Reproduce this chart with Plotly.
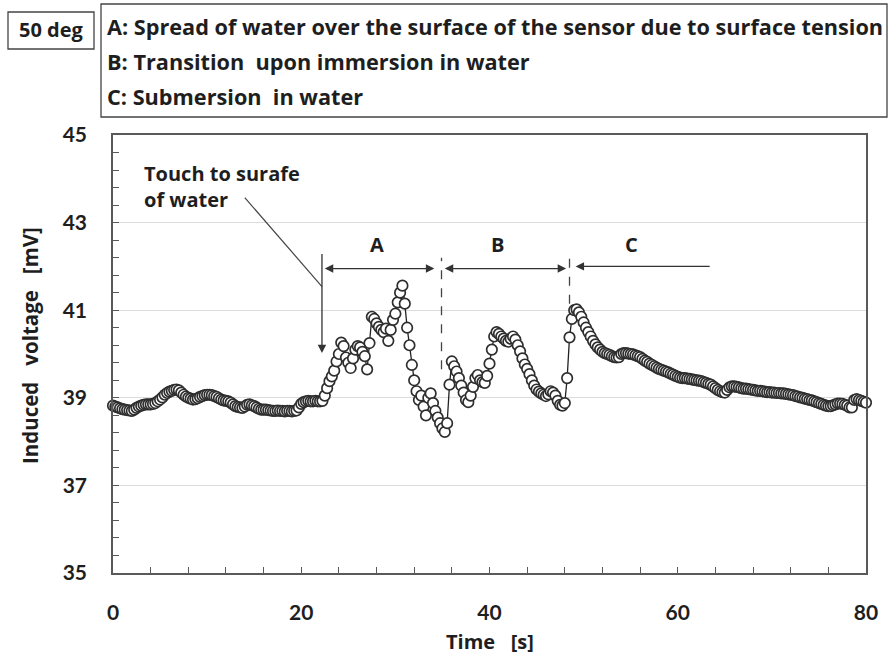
import numpy as np
import plotly.graph_objects as go

# Sampling interval of the recorder [s]
dt = 0.25

# Induced voltage [mV], one row per 2 s (8 samples at 0.25 s)
voltage = [
    38.82, 38.80, 38.78, 38.76, 38.74, 38.73, 38.72, 38.71,
    38.70, 38.73, 38.77, 38.80, 38.82, 38.84, 38.85, 38.85,
    38.85, 38.86, 38.88, 38.92, 38.96, 39.01, 39.07, 39.11,
    39.14, 39.16, 39.18, 39.19, 39.17, 39.12, 39.07, 39.03,
    39.00, 38.98, 38.96, 38.97, 38.99, 39.02, 39.04, 39.06,
    39.07, 39.07, 39.06, 39.04, 39.02, 38.99, 38.96, 38.94,
    38.93, 38.92, 38.89, 38.85, 38.81, 38.79, 38.78, 38.77,
    38.80, 38.84, 38.85, 38.83, 38.81, 38.78, 38.75, 38.73,
    38.73, 38.73, 38.72, 38.71, 38.70, 38.70, 38.71, 38.70,
    38.70, 38.69, 38.70, 38.70, 38.69, 38.70, 38.71, 38.78,
    38.86, 38.90, 38.92, 38.93, 38.92, 38.92, 38.93, 38.92,
    38.92, 38.93, 39.05, 39.22, 39.38, 39.49, 39.62, 39.83,
    40.00, 40.26, 40.18, 39.92, 39.80, 39.68, 39.90, 40.10,
    40.18, 40.15, 40.05, 39.95, 39.65, 40.25, 40.85, 40.80,
    40.70, 40.62, 40.55, 40.50, 40.58, 40.30, 40.55, 40.78,
    40.92, 41.18, 41.40, 41.56, 41.15, 40.60, 40.20, 39.75,
    39.40, 39.15, 38.95, 39.05, 38.80, 38.60, 39.00, 39.10,
    38.88, 38.70, 38.55, 38.42, 38.30, 38.22, 38.42, 39.30,
    39.83, 39.72, 39.60, 39.45, 39.28, 39.12, 38.95, 38.90,
    39.05, 39.25, 39.45, 39.52, 39.40, 39.36, 39.34, 39.50,
    39.78, 40.10, 40.40, 40.50, 40.46, 40.40, 40.35, 40.30,
    40.28, 40.35, 40.40, 40.33, 40.20, 40.06, 39.90, 39.76,
    39.66, 39.54, 39.40, 39.28, 39.19, 39.14, 39.10, 39.07,
    39.04, 39.08, 39.15, 39.12, 39.05, 38.93, 38.84, 38.82,
    38.88, 39.45, 40.38, 40.80, 41.00, 41.02, 40.95, 40.85,
    40.72, 40.60, 40.50, 40.40, 40.30, 40.22, 40.15, 40.10,
    40.05, 40.02, 40.00, 39.98, 39.95, 39.93, 39.92, 39.93,
    40.00, 40.02, 40.02, 40.01, 40.00, 39.99, 39.97, 39.95,
    39.93, 39.89, 39.85, 39.82, 39.78, 39.75, 39.72, 39.69,
    39.66, 39.64, 39.62, 39.60, 39.58, 39.55, 39.53, 39.50,
    39.48, 39.46, 39.45, 39.45, 39.44, 39.43, 39.42, 39.41,
    39.40, 39.39, 39.38, 39.36, 39.34, 39.32, 39.30, 39.26,
    39.22, 39.18, 39.15, 39.13, 39.12, 39.18, 39.24, 39.26,
    39.26, 39.25, 39.24, 39.22, 39.21, 39.21, 39.20, 39.19,
    39.18, 39.17, 39.16, 39.16, 39.15, 39.14, 39.13, 39.13,
    39.12, 39.12, 39.11, 39.11, 39.10, 39.10, 39.09, 39.08,
    39.07, 39.06, 39.04, 39.03, 39.01, 39.00, 38.98, 38.97,
    38.95, 38.94, 38.92, 38.90, 38.88, 38.86, 38.84, 38.82,
    38.81, 38.81, 38.83, 38.85, 38.87, 38.87, 38.86, 38.84,
    38.82, 38.78, 38.78, 38.95, 38.97, 38.95, 38.93, 38.91,
    38.89,
]
time = np.arange(len(voltage)) * dt

# Phase labels and their time spans [s]
phase_names = ["A", "B", "C"]
phase_spans = [(22.5, 34.3), (35.25, 48.3), (49.15, 63.55)]
phase_label_t = [28.0, 40.9, 55.1]
phase_boundaries = [34.9, 48.5]
touch_time = 22.2

legend_lines = [
    "A: Spread of water over the surface of the sensor due to surface tension",
    "B: Transition\u00a0 upon immersion in water",
    "C: Submersion\u00a0 in water",
]

TEXT_FONT = "'Open Sans', Lato, sans-serif"
TICK_FONT = "Lato, 'Open Sans', sans-serif"
INK = "#1e1e1e"
AXIS = "#595959"


def bold(size, family=TEXT_FONT):
    return dict(family=family, size=size, color=INK, weight="bold")


W, H = 889, 657
ML, MR, MT, MB = 113, 23, 135, 84
PW, PH = W - ML - MR, H - MT - MB


def px(x):
    return (x - ML) / PW


def py(y):
    return (H - MB - y) / PH


fig = go.Figure()
fig.add_trace(go.Scatter(
    x=time, y=voltage, mode="lines+markers",
    line=dict(color="#222", width=1.3),
    marker=dict(symbol="circle", size=10.5, color="white",
                line=dict(color="#2e2e2e", width=1.7)),
    cliponaxis=False, showlegend=False,
))

shapes = []
annotations = []

# Touch marker: vertical arrow down to the trace
annotations.append(dict(
    x=touch_time, y=40.02, ax=touch_time, ay=42.32,
    xref="x", yref="y", axref="x", ayref="y",
    text="", showarrow=True, arrowhead=2, arrowsize=1.3,
    arrowwidth=1.3, arrowcolor="#333",
))
# Leader line from the touch label
shapes.append(dict(type="line", xref="x", yref="y",
                   x0=14.0, y0=43.57, x1=touch_time, y1=41.54,
                   line=dict(color="#444", width=1.2)))
annotations.append(dict(
    x=3.1, y=43.82, xref="x", yref="y",
    text="Touch to surafe<br>of water", showarrow=False,
    xanchor="left", yanchor="middle", align="left",
    font=bold(20),
))

# Phase span arrows and labels
for name, (t0, t1), tl in zip(phase_names, phase_spans, phase_label_t):
    yv = 42.0 if name == "C" else 41.95
    annotations.append(dict(
        x=t0, y=yv, ax=t1, ay=yv,
        xref="x", yref="y", axref="x", ayref="y",
        text="", showarrow=True, arrowhead=2, arrowsize=1.3,
        arrowwidth=1.3, arrowcolor="#333",
        arrowside="end" if name == "C" else "end+start",
    ))
    annotations.append(dict(
        x=tl, y=42.5, xref="x", yref="y", text=name, showarrow=False,
        font=bold(20),
    ))

# Dashed phase boundaries
shapes.append(dict(type="line", xref="x", yref="y",
                   x0=phase_boundaries[0], x1=phase_boundaries[0], y0=39.65, y1=42.2,
                   line=dict(color="#444", width=1.3, dash="dash")))
shapes.append(dict(type="line", xref="x", yref="y",
                   x0=phase_boundaries[1], x1=phase_boundaries[1], y0=41.15, y1=42.23,
                   line=dict(color="#444", width=1.3, dash="dash")))

# Header boxes
shapes.append(dict(type="rect", xref="paper", yref="paper",
                   x0=px(8), x1=px(94), y0=py(49), y1=py(12),
                   line=dict(color="#444", width=1.3), fillcolor="white"))
shapes.append(dict(type="rect", xref="paper", yref="paper",
                   x0=px(101), x1=px(887), y0=py(117), y1=py(4),
                   line=dict(color="#444", width=1.3), fillcolor="white"))
annotations.append(dict(
    x=px(51), y=py(30), xref="paper", yref="paper", text="50 deg",
    showarrow=False, xanchor="center", yanchor="middle",
    font=bold(20),
))
for line, yc in zip(legend_lines, [27, 62, 96]):
    annotations.append(dict(
        x=px(105), y=py(yc), xref="paper", yref="paper", text=line,
        showarrow=False, xanchor="left", yanchor="middle",
        font=bold(21.7),
    ))

# Axis titles
annotations.append(dict(
    x=px(490), y=py(641), xref="paper", yref="paper",
    text="Time\u00a0\u00a0 [s]", showarrow=False, xanchor="center", yanchor="middle",
    font=bold(20),
))
annotations.append(dict(
    x=px(30), y=py(346), xref="paper", yref="paper",
    text="Induced\u00a0\u00a0 voltage\u00a0\u00a0 [mV]", showarrow=False, textangle=-90,
    xanchor="center", yanchor="middle",
    font=bold(20.5),
))

fig.update_layout(
    width=W, height=H,
    margin=dict(l=ML, r=MR, t=MT, b=MB, autoexpand=False),
    paper_bgcolor="white", plot_bgcolor="white",
    shapes=shapes, annotations=annotations,
    font=bold(20),
)
fig.update_xaxes(
    range=[0, 80], tickvals=[0, 20, 40, 60, 80],
    ticks="inside", ticklen=6, tickwidth=1.2, tickcolor=AXIS,
    minor=dict(dtick=4, ticks="inside", ticklen=6, tickwidth=1.2, tickcolor=AXIS, showgrid=False),
    showline=True, linecolor=AXIS, linewidth=1.5, mirror=True,
    showgrid=False, zeroline=False, ticklabelstandoff=20,
    tickfont=bold(21, TICK_FONT),
)
fig.update_yaxes(
    range=[35, 45], tickvals=[35, 37, 39, 41, 43, 45],
    ticks="inside", ticklen=6, tickwidth=1.2, tickcolor=AXIS,
    minor=dict(tick0=35, dtick=0.4, ticks="inside", ticklen=6, tickwidth=1.2, tickcolor=AXIS, showgrid=False),
    showline=True, linecolor=AXIS, linewidth=1.5, mirror=True,
    showgrid=True, gridcolor="#dcdcdc", gridwidth=1.2, zeroline=False,
    ticklabelstandoff=20,
    tickfont=bold(21, TICK_FONT),
)

fig.write_html("out.html")
